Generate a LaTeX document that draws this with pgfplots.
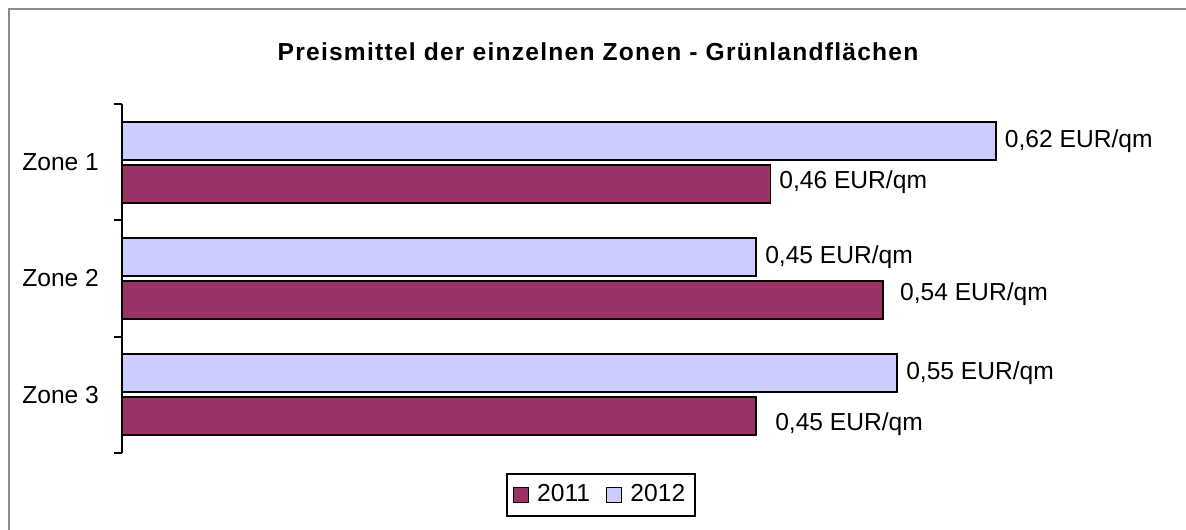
\documentclass[border=0pt]{standalone}
\usepackage{pgfplots}
\usepackage{pgfplotstable}
\pgfplotsset{compat=1.18}
\usepackage{fontspec}
\setmainfont{Liberation Sans}
\definecolor{cA}{HTML}{993366}
\definecolor{cB}{HTML}{CCCCFF}
\definecolor{frameg}{HTML}{8C8C8C}

\pgfplotstableread{
x y dx dy lab
0.46 2 4 1 0,46
0.54 1 8 3 0,54
0.45 0 9 -4 0,45
}\dataA
\pgfplotstableread{
x y dx dy lab
0.62 2 4 0 0,62
0.45 1 4 0 0,45
0.55 0 4 0 0,55
}\dataB

\begin{document}
\begin{tikzpicture}
\useasboundingbox (0,0) rectangle (593pt,-264.5pt);
\draw[frameg, line width=1pt] (4.5pt,-270pt) -- (4.5pt,-4.5pt) -- (600pt,-4.5pt);
\node[anchor=base, font=\fontsize{12.3}{14}\selectfont\bfseries\addfontfeatures{LetterSpace=5}] at (299pt,-30.5pt) {Preismittel der einzelnen Zonen - Grünlandflächen};
\begin{axis}[
  at={(61pt,-226.5pt)}, anchor=south west,
  scale only axis,
  width=493.4pt, height=174.5pt,
  xbar, bar width=19pt,
  xmin=0, xmax=0.7, ymin=-0.5, ymax=2.5,
  axis x line=none,
  axis y line*=left,
  y axis line style={line width=0.9pt},
  xtick=\empty,
  ytick={0,1,2},
  yticklabels={Zone 3,Zone 2,Zone 1},
  major tick length=0pt,
  minor ytick={-0.5,0.5,1.5,2.5},
  minor tick length=4pt,
  tick align=outside,
  minor tick style={line width=0.9pt, black},
  yticklabel style={font=\fontsize{12.3}{14}\selectfont, xshift=-8pt},
  clip=false,
  point meta=explicit symbolic,
  nodes near coords={\pgfplotspointmeta~EUR/qm},
  nodes near coords align=horizontal,
  visualization depends on={\thisrow{dx} \as \dx},
  visualization depends on={\thisrow{dy} \as \dy},
  every node near coord/.append style={font=\fontsize{12.3}{14}\selectfont, anchor=west, inner sep=0pt, xshift=\dx pt, yshift=\dy pt},
  legend columns=2,
  legend style={at={(0.4854,-0.1197)}, anchor=center, draw=black, line width=0.9pt,
    font=\fontsize{12.3}{14}\selectfont, inner xsep=3pt, inner ysep=3.5pt,
    /tikz/every odd column/.append style={column sep=2pt},
    /tikz/every even column/.append style={column sep=6pt}},
  legend image code/.code={\draw[#1, line width=0.7pt] (0pt,-3.75pt) rectangle (7.5pt,3.75pt);},
]
\addplot[fill=cA, draw=black, line width=0.9pt, bar shift=-10.75pt] table[x=x, y=y, meta=lab] {\dataA};
\addplot[fill=cB, draw=black, line width=0.9pt, bar shift=10.75pt] table[x=x, y=y, meta=lab] {\dataB};
\legend{2011,2012}
\end{axis}
\end{tikzpicture}
\end{document}
